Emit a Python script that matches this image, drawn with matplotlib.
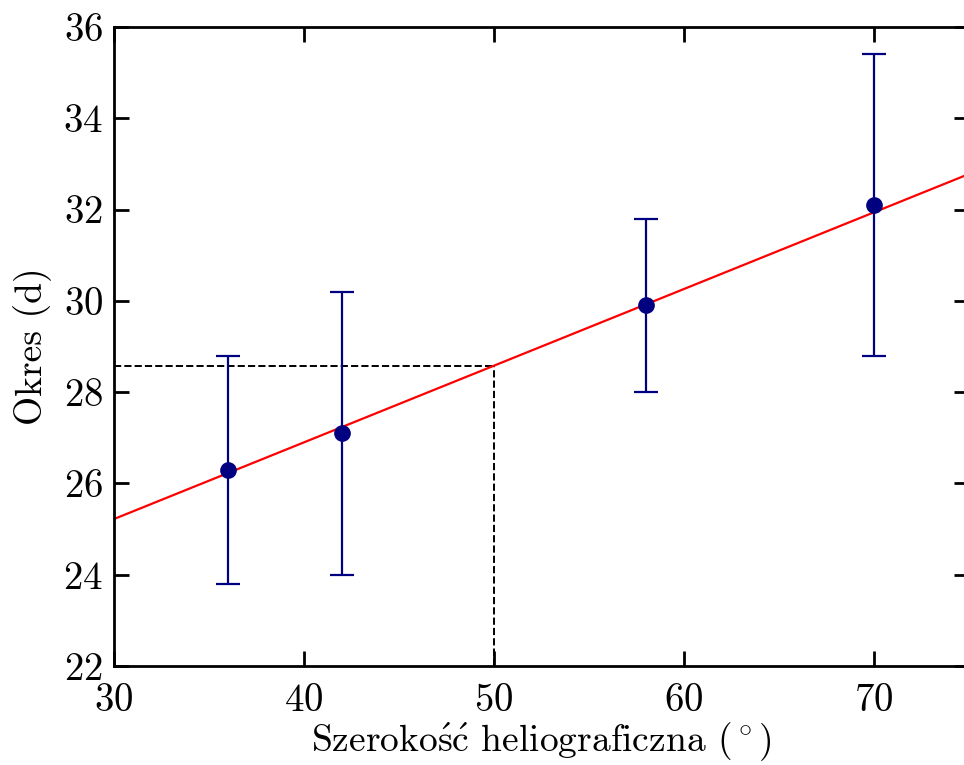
import matplotlib
matplotlib.use("Agg")
import matplotlib.pyplot as plt
import numpy as np

# dane pomiarowe
szerokosc = [36, 42, 58, 70]
okres = [26.3, 27.1, 29.9, 32.1]
blad = [2.5, 3.1, 1.9, 3.3]

# parametry dopasowanej prostej
a_fit = 0.168
b_fit = 20.18
x_odczyt = 50

plt.rcParams['font.family'] = ['cmr10', 'DejaVu Serif']
plt.rcParams['mathtext.fontset'] = 'cm'
plt.rcParams['axes.formatter.use_mathtext'] = True

fig = plt.figure(figsize=(9.64, 7.65), dpi=100)
# prawa krawędź osi wychodzi nieco poza obraz (jak w oryginale)
ax = fig.add_axes([114 / 964, 1 - 666 / 765, 855 / 964, (666 - 27) / 765])

xs = np.array([30, 75])
ax.plot(xs, a_fit * xs + b_fit, color='red', lw=1.6, zorder=2)

y_odczyt = a_fit * x_odczyt + b_fit
ax.plot([30, x_odczyt], [y_odczyt, y_odczyt], 'k--', lw=1.4, zorder=1)
ax.plot([x_odczyt, x_odczyt], [22, y_odczyt], 'k--', lw=1.4, zorder=1)

ax.errorbar(szerokosc, okres, yerr=blad, fmt='o', color='navy', ms=11,
            capsize=8.5, elinewidth=1.6, capthick=1.6, zorder=3)

ax.set_xlim(30, 75)
ax.set_ylim(22, 36)
ax.set_xticks([30, 40, 50, 60, 70])
ax.set_yticks(np.arange(22, 37, 2))

for s in ax.spines.values():
    s.set_linewidth(2)
ax.tick_params(direction='in', top=True, right=True, length=11, width=2,
               labelsize=28)
ax.tick_params(axis='x', pad=12)
ax.tick_params(axis='y', pad=8)

ax.set_xlabel(r"Szeroko$\acute{\mathrm{s}}\acute{\mathrm{c}}$ heliograficzna (${}^\circ$)",
              fontsize=27, labelpad=1)
ax.set_ylabel("Okres (d)", fontsize=27, labelpad=8)

fig.savefig("out.png", dpi=100)
